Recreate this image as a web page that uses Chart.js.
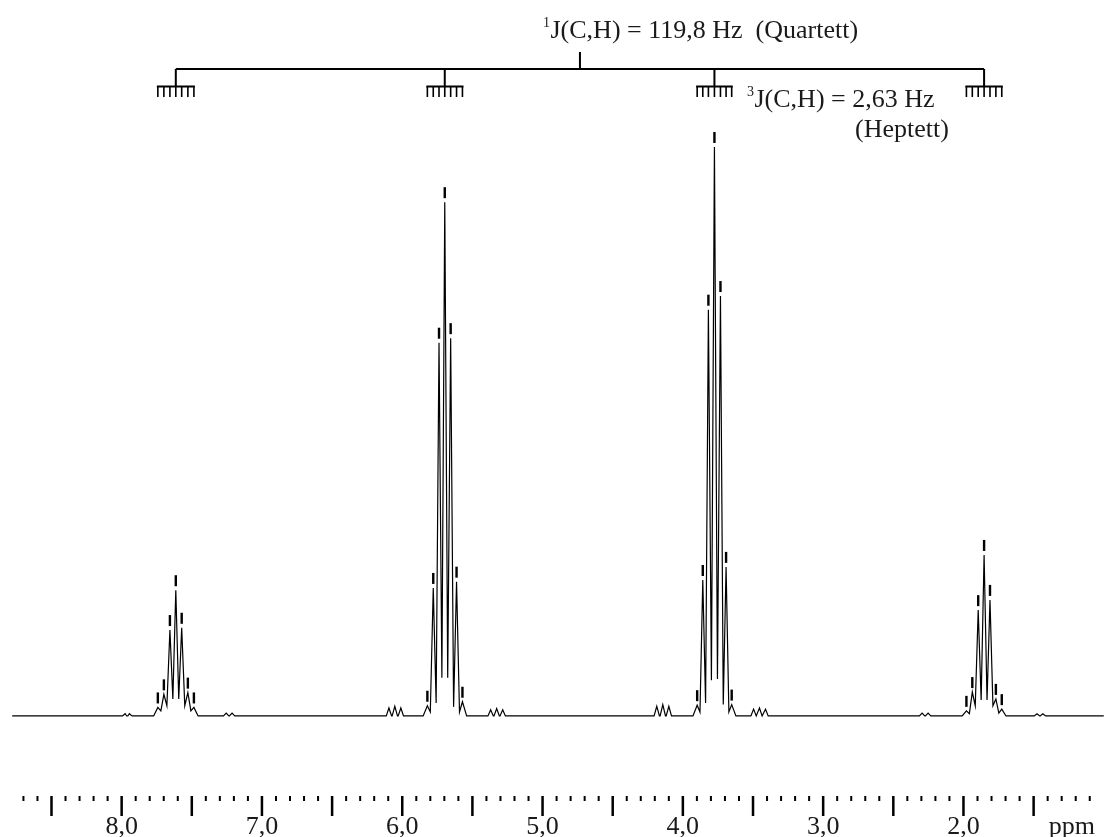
<!DOCTYPE html>
<html>
<head>
<meta charset="utf-8">
<title>13C-NMR Spektrum</title>
<script src="https://cdn.jsdelivr.net/npm/chart.js@4.4.0/dist/chart.umd.min.js"></script>
<style>
    html, body { margin: 0; padding: 0; background: #fff; overflow: hidden; }
    #wrapper { position: relative; width: 1107px; height: 837px; }
</style>
</head>
<body>
<div id="wrapper"><canvas id="spettro"></canvas></div>
<script>
"use strict"

// picked lines of the four heptets (ppm), 7 lines per group
const peakPpm = [
    7.742, 7.699, 7.656, 7.614, 7.572, 7.528, 7.485,
    5.821, 5.779, 5.738, 5.697, 5.655, 5.613, 5.571,
    3.898, 3.858, 3.818, 3.775, 3.732, 3.692, 3.652,
    1.979, 1.937, 1.895, 1.853, 1.811, 1.769, 1.727
];
const peakHeight = [
    1.5, 3.8, 15.1, 22.1, 15.5, 4.1, 1.5,
    1.8, 22.5, 65.6, 90.3, 66.4, 23.6, 2.5,
    1.9, 23.9, 71.4, 100, 73.8, 26.2, 2.0,
    0.9, 4.2, 18.6, 28.3, 20.4, 3.0, 1.2
];
// minima between neighbouring lines, 6 per group
const valleyHeight = [
    0.9, 1.8, 3.0, 3.0, 1.8, 0.9,
    0.7, 2.3, 6.7, 6.7, 1.6, 0.7,
    0.7, 2.3, 6.3, 6.5, 2.0, 0.7,
    0.4, 1.8, 2.8, 2.8, 1.8, 0.5
];
// small side signals on the baseline
const satPpm = [
    7.975, 7.945, 7.255, 7.213, 6.095, 6.053, 6.010, 5.370, 5.327, 5.284,
    4.186, 4.143, 4.100, 3.496, 3.454, 3.411, 2.295, 2.252, 1.476, 1.434
];
const satHeight = [
    0.4, 0.4, 0.5, 0.5, 1.4, 1.7, 1.4, 1.1, 1.3, 1.1,
    1.7, 2.0, 1.7, 1.2, 1.4, 1.2, 0.5, 0.5, 0.4, 0.4
];
const spectrumRange = [8.78, 1.0];

const tickValues = [8, 7, 6, 5, 4, 3, 2];
const tickLabels = ["8,0", "7,0", "6,0", "5,0", "4,0", "3,0", "2,0"];

const righe = 7;

function costruisciSpettro() {
    let punti = [];
    punti.push({ x: spectrumRange[0], y: 0 });
    punti.push({ x: spectrumRange[1], y: 0 });
    for (let g = 0; g < peakPpm.length / righe; g++) {
        let start = g * righe;
        punti.push({ x: peakPpm[start] + 0.03, y: 0 });
        punti.push({ x: peakPpm[start + righe - 1] - 0.03, y: 0 });
        for (let i = 0; i < righe; i++) {
            punti.push({ x: peakPpm[start + i], y: peakHeight[start + i] });
            if (i < righe - 1) {
                let mid = (peakPpm[start + i] + peakPpm[start + i + 1]) / 2;
                punti.push({ x: mid, y: valleyHeight[g * (righe - 1) + i] });
            }
        }
    }
    for (let i = 0; i < satPpm.length; i++) {
        punti.push({ x: satPpm[i] + 0.019, y: 0 });
        punti.push({ x: satPpm[i], y: satHeight[i] });
        punti.push({ x: satPpm[i] - 0.019, y: 0 });
    }
    punti.sort(function (a, b) { return b.x - a.x; });
    return punti;
}

function testoConApice(ctx, apice, testo, x, y) {
    ctx.font = "14px 'Liberation Serif'";
    ctx.fillText(apice, x, y - 11);
    let w = ctx.measureText(apice).width;
    ctx.font = "26px 'Liberation Serif'";
    ctx.fillText(testo, x + w + 0.5, y);
}

let annotazioni = {
    id: "annotazioni",
    afterDatasetsDraw: function (chart) {
        let ctx = chart.ctx;
        let xs = chart.scales.x;
        let ys = chart.scales.y;
        ctx.save();

        // peak picking marks above each line
        ctx.fillStyle = "#000";
        for (let i = 0; i < peakPpm.length; i++) {
            let px = xs.getPixelForValue(peakPpm[i]);
            let py = ys.getPixelForValue(peakHeight[i]);
            ctx.fillRect(px - 1.2, py - 15, 2.4, 11);
        }

        // coupling tree: quartet on top, heptet combs below
        let centri = [];
        for (let g = 0; g < peakPpm.length / righe; g++) {
            centri.push(xs.getPixelForValue(peakPpm[g * righe + 3]));
        }
        let medio = (centri[0] + centri[centri.length - 1]) / 2;
        ctx.strokeStyle = "#000";
        ctx.lineWidth = 2;
        ctx.beginPath();
        ctx.moveTo(medio, 52);
        ctx.lineTo(medio, 69);
        ctx.moveTo(centri[0], 69);
        ctx.lineTo(centri[centri.length - 1], 69);
        for (const c of centri) {
            ctx.moveTo(c, 69);
            ctx.lineTo(c, 86);
        }
        ctx.stroke();

        for (let g = 0; g < centri.length; g++) {
            let a = xs.getPixelForValue(peakPpm[g * righe]);
            let b = xs.getPixelForValue(peakPpm[g * righe + righe - 1]);
            ctx.lineWidth = 2;
            ctx.beginPath();
            ctx.moveTo(a - 1, 86.5);
            ctx.lineTo(b + 1, 86.5);
            ctx.stroke();
            ctx.lineWidth = 1.6;
            ctx.beginPath();
            for (let i = 0; i < righe; i++) {
                let t = xs.getPixelForValue(peakPpm[g * righe + i]);
                ctx.moveTo(t, 86);
                ctx.lineTo(t, 97);
            }
            ctx.stroke();
        }

        ctx.fillStyle = "#1a1a1a";
        ctx.textAlign = "left";
        ctx.textBaseline = "alphabetic";
        testoConApice(ctx, "1", "J(C,H) = 119,8 Hz  (Quartett)", 543, 38);
        testoConApice(ctx, "3", "J(C,H) = 2,63 Hz", 747, 107);
        ctx.font = "26px 'Liberation Serif'";
        ctx.fillText("(Heptett)", 855, 137);

        // ppm axis: long ticks every 0.5, short ticks every 0.1
        ctx.fillStyle = "#000";
        for (let k = 87; k >= 11; k--) {
            let v = k / 10;
            let px = xs.getPixelForValue(v);
            if (k % 5 === 0) {
                ctx.fillRect(px - 1.25, 796, 2.5, 20);
            } else {
                ctx.fillRect(px - 1, 796, 2, 5);
            }
        }
        ctx.fillStyle = "#1a1a1a";
        ctx.font = "26px 'Liberation Serif'";
        ctx.textAlign = "center";
        for (let i = 0; i < tickValues.length; i++) {
            ctx.fillText(tickLabels[i], xs.getPixelForValue(tickValues[i]), 834);
        }
        ctx.textAlign = "right";
        ctx.fillText("ppm", 1095, 834);
        ctx.restore();
    }
};

window.onload = function () {
    let canvas = document.getElementById("spettro");
    let chart = new Chart(canvas, {
        type: "line",
        data: {
            datasets: [{
                data: costruisciSpettro(),
                borderColor: "#000",
                borderWidth: 1.2,
                pointRadius: 0,
                tension: 0,
                fill: false
            }]
        },
        options: {
            responsive: true,
            maintainAspectRatio: false,
            animation: false,
            devicePixelRatio: 1,
            events: [],
            layout: { padding: 0 },
            plugins: {
                legend: { display: false },
                tooltip: { enabled: false }
            },
            scales: {
                x: { type: "linear", reverse: true, min: 0.977, max: 8.867, display: false },
                y: { type: "linear", min: -21.27, max: 125.83, display: false }
            }
        },
        plugins: [annotazioni]
    });
}
</script>
</body>
</html>
